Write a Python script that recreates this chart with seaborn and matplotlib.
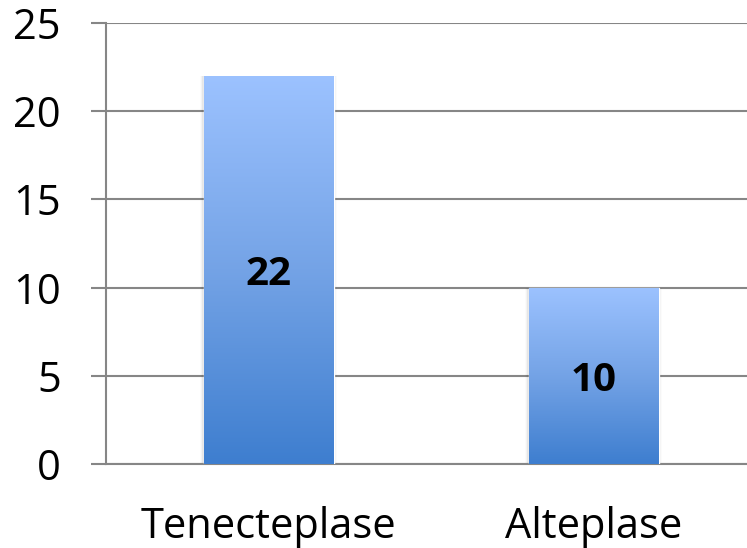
import numpy as np
import pandas as pd
import matplotlib
matplotlib.use("Agg")
import matplotlib.pyplot as plt
import seaborn as sns
from matplotlib.colors import LinearSegmentedColormap

categories = ["Tenecteplase", "Alteplase"]
values = [22, 10]
y_ticks = [0, 5, 10, 15, 20, 25]

sns.set_theme(style="white")
plt.rcParams["font.family"] = ["Open Sans", "DejaVu Sans"]

W, H = 747, 548
PX = 72 / 100  # points per pixel at 100 dpi
fig = plt.figure(figsize=(W / 100, H / 100), dpi=100)
left, right_px, top, bottom = 106, 756, 23, 464
ax = fig.add_axes([left / W, 1 - bottom / H, (right_px - left) / W, (bottom - top) / H])

df = pd.DataFrame({"drug": categories, "count": values})
sns.barplot(data=df, x="drug", y="count", width=0.4, color="#5b8fd8", ax=ax, zorder=3)

grid_c = "#868686"
ax.set_xlim(-0.5, 1.5)
ax.set_ylim(0, 25)
ax.set_yticks(y_ticks)
ax.set_yticklabels([str(t) for t in y_ticks], fontsize=30, color="black")
ax.yaxis.grid(True, color=grid_c, linewidth=1.5, zorder=0)
ax.set_axisbelow(True)
ax.set_xticks([-0.5, 0.5, 1.5], minor=False)
ax.set_xticklabels([])
ax.set_xticks([0, 1], minor=True)
ax.set_xticklabels(categories, minor=True, fontsize=30, color="black")
ax.tick_params(axis="x", which="major", direction="out", length=15 * PX, width=1.5, color=grid_c)
ax.tick_params(axis="x", which="minor", length=0, pad=42 * PX)
ax.tick_params(axis="y", direction="out", length=15 * PX, width=1.5, color=grid_c, pad=30 * PX, left=True)
ax.set_xlabel("")
ax.set_ylabel("")
for side in ["top", "right"]:
    ax.spines[side].set_visible(False)
for side in ["left", "bottom"]:
    ax.spines[side].set_color(grid_c)
    ax.spines[side].set_linewidth(1.5)

# vertical gradient fill, light at the top, darker at the base
cmap = LinearSegmentedColormap.from_list("bar_grad", ["#3e7ecf", "#74a3e6", "#9cc2ff"])
grad = np.linspace(0, 1, 256).reshape(-1, 1)
for patch, val in zip(ax.patches, values):
    x0, y0 = patch.get_x(), patch.get_y()
    w, h = patch.get_width(), patch.get_height()
    # faint shadow along the sides of the bar
    for k, a in enumerate([0.05, 0.03, 0.015]):
        d = 0.004 * (k + 1)
        sh = plt.Rectangle((x0 - d, y0), w + 2 * d, h, color="black",
                           alpha=a, lw=0, zorder=2)
        ax.add_patch(sh)
    im = ax.imshow(grad, cmap=cmap, origin="lower", aspect="auto",
                   extent=[x0, x0 + w, y0, y0 + h], zorder=4)
    im.set_clip_path(patch)
    ax.text(x0 + w / 2, val / 2, str(val), ha="center", va="center_baseline",
            fontsize=29, fontweight="bold", color="black", zorder=5)

ax.set_xlim(-0.5, 1.5)
ax.set_ylim(0, 25)
fig.savefig("out.png", dpi=100)
